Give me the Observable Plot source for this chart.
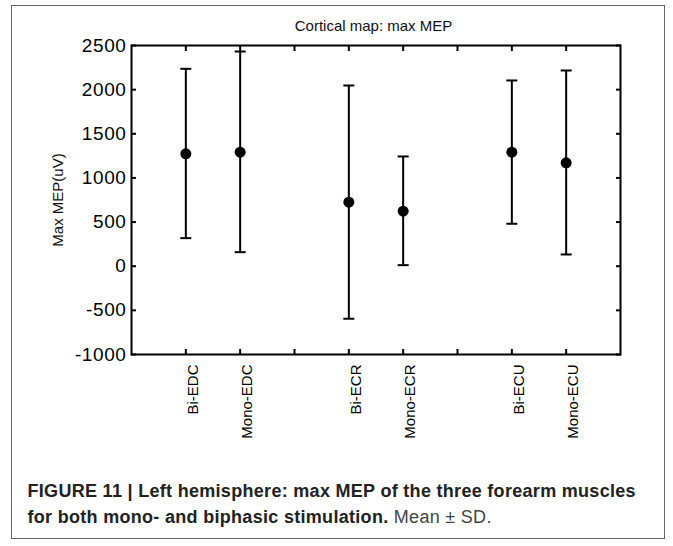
<!DOCTYPE html>
<html>
<head>
<meta charset="utf-8">
<script src="https://cdn.jsdelivr.net/npm/d3@7"></script>
<script src="https://cdn.jsdelivr.net/npm/@observablehq/plot@0.6"></script>
<style>
  html, body { margin: 0; padding: 0; background: #fff; }
  body { width: 673px; height: 546px; position: relative; overflow: hidden; font-family: "Liberation Sans", Arial, sans-serif; }
  #border { position: absolute; left: 11px; top: 5px; width: 654px; height: 534px; border: 1.5px solid #666; box-sizing: border-box; }
  #chart { position: absolute; left: 0; top: 0; }
  #title { position: absolute; left: 273.5px; top: 17px; width: 200px; text-align: center; font-size: 15px; line-height: 17px; color: #111; white-space: nowrap; }
  #caption { position: absolute; left: 27.5px; top: 478px; font-size: 18px; line-height: 26px; color: #222; letter-spacing: 0.3px; white-space: nowrap; }
  #caption b { font-weight: bold; }
  #caption span.n { color: #444; }
</style>
</head>
<body>
<div id="border"></div>
<div id="chart"></div>
<div id="title"></div>
<div id="caption"></div>
<script>
// ---- data ----
const titleText = "Cortical map: max MEP";
const yLabel = "Max MEP(uV)";
const categories = ["Bi-EDC", "Mono-EDC", "Bi-ECR", "Mono-ECR", "Bi-ECU", "Mono-ECU"];
const positions = [1, 2, 4, 5, 7, 8];
const means = [1273, 1292, 725, 623, 1292, 1171];
const lows = [318, 159, -595, 12, 481, 133];
const highs = [2236, 2432, 2047, 1243, 2104, 2217];
const xTicks = [1, 2, 3, 4, 5, 6, 7, 8];
const yTicks = [-1000, -500, 0, 500, 1000, 1500, 2000, 2500];
const captionBold = ["FIGURE 11 | Left hemisphere: max MEP of the three forearm muscles", "for both mono- and biphasic stimulation."];
const captionNormal = " Mean \u00B1 SD.";

const data = categories.map((c, i) => ({ name: c, x: positions[i], mean: means[i], low: lows[i], high: highs[i] }));
const nameAt = new Map(positions.map((p, i) => [p, categories[i]]));

const capSymbol = {
  draw(context, size) {
    const w = Math.sqrt(size / Math.PI);
    context.moveTo(-w, 0);
    context.lineTo(w, 0);
  }
};

const font = "Liberation Sans, Arial, sans-serif";

const plot = Plot.plot({
  width: 673,
  height: 450,
  marginTop: 45,
  marginBottom: 96,
  marginLeft: 131,
  marginRight: 53,
  style: { fontFamily: font, color: "#000", background: "transparent" },
  x: { domain: [0, 9] },
  y: { domain: [-1000, 2500] },
  marks: [
    // y tick labels (left)
    Plot.axisY({ anchor: "left", ticks: yTicks, tickSize: 0, tickPadding: 5, fontSize: 19, label: null, tickFormat: d => String(d) }),
    // inward ticks on all four sides
    Plot.axisY({ anchor: "left", ticks: yTicks, tickSize: -5, text: null, label: null, strokeWidth: 2 }),
    Plot.axisY({ anchor: "right", ticks: yTicks, tickSize: -5, text: null, label: null, strokeWidth: 2 }),
    Plot.axisX({ anchor: "bottom", ticks: xTicks, tickSize: -5, text: null, label: null, strokeWidth: 2 }),
    Plot.axisX({ anchor: "top", ticks: xTicks, tickSize: -5, text: null, label: null, strokeWidth: 2 }),
    // x category labels
    Plot.axisX({ anchor: "bottom", ticks: positions, tickSize: 0, tickPadding: 10, tickRotate: -90, fontSize: 15, dx: 7, label: null, tickFormat: d => nameAt.get(d) }),
    // y label
    Plot.text([yLabel], { frameAnchor: "left", textAnchor: "middle", lineAnchor: "middle", dx: -73, rotate: -90, fontSize: 15, fill: "#111" }),
    // error bars
    Plot.ruleX(data, { x: "x", y1: "low", y2: "high", stroke: "#000", strokeWidth: 2 }),
    Plot.dot(data, { x: "x", y: "low", symbol: capSymbol, r: 5.5, stroke: "#000", strokeWidth: 2, fill: "none" }),
    Plot.dot(data, { x: "x", y: "high", symbol: capSymbol, r: 5.5, stroke: "#000", strokeWidth: 2, fill: "none" }),
    Plot.dot(data, { x: "x", y: "mean", r: 5.5, fill: "#000", stroke: "none" }),
    Plot.frame({ stroke: "#000", strokeWidth: 2 })
  ]
});
document.getElementById("chart").appendChild(plot);
d3.select(plot).selectAll('g[aria-label="y-axis tick label"] text').style("letter-spacing", "0.6px");

document.getElementById("title").textContent = titleText;
const cap = document.getElementById("caption");
const b1 = document.createElement("b"); b1.textContent = captionBold[0];
cap.appendChild(b1);
cap.appendChild(document.createElement("br"));
const b2 = document.createElement("b"); b2.textContent = captionBold[1];
cap.appendChild(b2);
const n = document.createElement("span"); n.className = "n"; n.textContent = captionNormal;
cap.appendChild(n);
</script>
</body>
</html>
